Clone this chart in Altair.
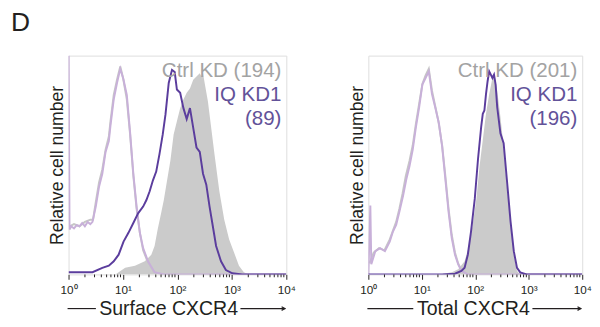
import altair as alt
import pandas as pd
import math

# ---------------- data (x = log10 fluorescence, y = fraction of max) ----------------
# Left panel: Surface CXCR4
surf_ctrl_x = [0.86, 1.04, 1.22, 1.40, 1.52, 1.58, 1.64, 1.70, 1.75, 1.81, 1.87, 1.93, 1.99, 2.05, 2.11, 2.17,
               2.23, 2.29, 2.35, 2.41, 2.44, 2.47, 2.50, 2.56, 2.62, 2.68, 2.77, 2.86, 2.95, 3.04, 3.13, 3.22, 3.31]
surf_ctrl_y = [0.00, 0.03, 0.04, 0.06, 0.09, 0.13, 0.21, 0.28, 0.34, 0.43, 0.52, 0.64, 0.70, 0.76, 0.80, 0.83,
               0.85, 0.89, 0.905, 0.92, 0.905, 0.92, 0.875, 0.79, 0.67, 0.55, 0.38, 0.25, 0.16, 0.10, 0.04, 0.01, 0.0]

surf_kd_x = [0.0, 0.08, 0.44, 0.62, 0.74, 0.83, 0.92, 1.01, 1.10, 1.19, 1.28, 1.37, 1.43, 1.49, 1.55, 1.61, 1.67,
             1.73, 1.78, 1.84, 1.90, 1.95, 1.99, 2.05, 2.11, 2.17, 2.23, 2.29, 2.35, 2.41, 2.47, 2.53, 2.59, 2.65,
             2.71, 2.80, 2.89, 3.01, 3.19, 4.0]
surf_kd_y = [0.01, 0.01, 0.01, 0.03, 0.04, 0.06, 0.09, 0.15, 0.19, 0.235, 0.28, 0.31, 0.34, 0.38, 0.43, 0.47, 0.55,
             0.64, 0.73, 0.875, 0.935, 0.925, 0.845, 0.83, 0.76, 0.71, 0.76, 0.67, 0.58, 0.56, 0.46, 0.41, 0.31, 0.22,
             0.13, 0.06, 0.02, 0.005, 0.0, 0.0]

surf_iso_x = [0.0, 0.018, 0.05, 0.10, 0.15, 0.20, 0.25, 0.30, 0.35, 0.40, 0.44, 0.50, 0.56, 0.62, 0.68, 0.74,
              0.77, 0.83, 0.89, 0.95, 1.01, 1.07, 1.13, 1.19, 1.25, 1.31, 1.37, 1.46, 1.58, 1.75, 4.0]
surf_iso_y = [1.05, 0.205, 0.22, 0.21, 0.225, 0.22, 0.235, 0.22, 0.24, 0.23, 0.24, 0.31, 0.40, 0.46, 0.56, 0.61,
              0.68, 0.80, 0.875, 0.94, 0.89, 0.82, 0.65, 0.46, 0.31, 0.19, 0.12, 0.06, 0.01, 0.0, 0.0]

surf_isoctrl_x = [0.018, 0.10, 0.20, 0.30, 0.40, 0.45, 0.50, 0.56, 0.62, 0.68, 0.74, 0.77, 0.83, 0.89, 0.95,
                  1.00, 1.07, 1.13, 1.19, 1.25, 1.31, 1.37, 1.45, 1.57, 1.75, 4.0]
surf_isoctrl_y = [0.22, 0.23, 0.22, 0.24, 0.25, 0.25, 0.33, 0.42, 0.48, 0.57, 0.63, 0.70, 0.82, 0.89, 0.95,
                  0.90, 0.80, 0.64, 0.45, 0.30, 0.19, 0.11, 0.06, 0.01, 0.0, 0.0]

# Right panel: Total CXCR4
tot_ctrl_x = [1.32, 1.56, 1.68, 1.80, 1.89, 1.95, 2.02, 2.08, 2.14, 2.20, 2.26, 2.32, 2.36, 2.41, 2.47, 2.53,
              2.59, 2.66, 2.72, 2.78, 2.84]
tot_ctrl_y = [0.0, 0.01, 0.024, 0.06, 0.136, 0.226, 0.345, 0.495, 0.614, 0.734, 0.824, 0.898, 0.913, 0.839,
              0.72, 0.584, 0.405, 0.226, 0.09, 0.016, 0.0]

tot_kd_x = [0.0, 1.38, 1.62, 1.74, 1.80, 1.86, 1.92, 1.99, 2.05, 2.11, 2.14, 2.17, 2.20, 2.23, 2.26, 2.29, 2.32,
            2.35, 2.38, 2.41, 2.47, 2.53, 2.59, 2.66, 2.72, 2.78, 2.84, 2.96, 4.0]
tot_kd_y = [0.0, 0.0, 0.003, 0.016, 0.03, 0.09, 0.196, 0.345, 0.525, 0.674, 0.734, 0.749, 0.824, 0.883, 0.928,
            0.913, 0.898, 0.913, 0.868, 0.764, 0.645, 0.60, 0.435, 0.24, 0.106, 0.03, 0.009, 0.0, 0.0]

tot_iso_x = [0.0, 0.037, 0.055, 0.13, 0.22, 0.31, 0.40, 0.46, 0.52, 0.58, 0.65, 0.71, 0.77, 0.83, 0.89, 0.95,
             1.01, 1.07, 1.13, 1.19, 1.25, 1.32, 1.38, 1.44, 1.50, 1.56, 1.62, 1.68, 1.74, 1.86, 4.0]
tot_iso_y = [0.0, 0.315, 0.046, 0.106, 0.12, 0.106, 0.15, 0.196, 0.226, 0.286, 0.36, 0.435, 0.495, 0.57, 0.674,
             0.764, 0.868, 0.898, 0.928, 0.824, 0.764, 0.69, 0.584, 0.435, 0.286, 0.166, 0.09, 0.046, 0.016, 0.0, 0.0]

tot_isoctrl_x = [0.02, 0.10, 0.20, 0.30, 0.40, 0.46, 0.52, 0.58, 0.64, 0.70, 0.77, 0.83, 0.89, 0.95, 1.01,
                 1.07, 1.13, 1.19, 1.25, 1.31, 1.38, 1.44, 1.50, 1.56, 1.62, 1.68, 1.74, 1.86, 4.0]
tot_isoctrl_y = [0.05, 0.10, 0.12, 0.11, 0.16, 0.20, 0.24, 0.30, 0.37, 0.45, 0.52, 0.59, 0.69, 0.78, 0.87,
                 0.91, 0.94, 0.84, 0.77, 0.70, 0.59, 0.45, 0.30, 0.18, 0.10, 0.05, 0.02, 0.0, 0.0]

surf_labels = ["Ctrl KD (194)", "IQ KD1", "(89)"]
tot_labels = ["Ctrl KD (201)", "IQ KD1", "(196)"]
axis_titles = ["Surface CXCR4", "Total CXCR4"]
y_title = "Relative cell number"
panel_letter = "D"
decade_labels = ["10⁰", "10¹", "10²", "10³", "10⁴"]

# ---------------- style ----------------
GRAY_FILL = "#cbcbcb"
GRAY_LINE = "#c6c6c6"
LIGHT_PURPLE = "#c8b0d9"
DARK_PURPLE = "#5b3d9d"
GRAY_TEXT = "#a3a3a3"
PURPLE_TEXT = "#625299"
INK = "#231f20"

major = [0, 1, 2, 3, 4]
minor = [round(d + math.log10(m), 4) for d in range(4) for m in range(2, 10)]
label_js = "[" + ",".join("'%s'" % s for s in decade_labels) + "]"

H = 224


def df(xs, ys):
    return pd.DataFrame({"x": xs, "y": ys})


def panel(ctrl, kd, iso, isoctrl, labels, xtitle, w, title_x, lines, letter=False):
    xs = alt.Scale(domain=[0, 4], nice=False, zero=False)
    ys = alt.Scale(domain=[0, 1], nice=False, zero=False)
    xaxis = alt.Axis(values=major, grid=False, domain=False,
                     tickSize=5, tickColor=INK, tickWidth=1,
                     labelExpr=label_js + "[round(datum.value)]",
                     labelOverlap=False, labelFlush=False, labelFontSize=12, labelColor=INK,
                     labelFont="Liberation Sans", labelPadding=6,
                     title=xtitle, titleFontSize=20, titleFontWeight="normal", titleColor=INK,
                     titleFont="Liberation Sans", titleX=title_x, titleAlign="center", titlePadding=3)
    yaxis = alt.Axis(grid=False, domain=False, ticks=False, labels=False,
                     title=y_title, titleFontSize=18, titleFontWeight="normal", titleColor=INK,
                     titleFont="Liberation Sans", titlePadding=2)

    X = alt.X("x:Q", scale=xs, axis=xaxis)
    Y = alt.Y("y:Q", scale=ys, axis=yaxis)

    area = alt.Chart(df(*ctrl)).mark_area(color=GRAY_FILL, clip=True, opacity=1).encode(x=X, y=Y)
    l_isoctrl = alt.Chart(df(*isoctrl)).mark_line(color=GRAY_LINE, strokeWidth=2, clip=True).encode(x="x:Q", y="y:Q")
    l_iso = alt.Chart(df(*iso)).mark_line(color=LIGHT_PURPLE, strokeWidth=2, clip=True).encode(x="x:Q", y="y:Q")
    l_kd = alt.Chart(df(*kd)).mark_line(color=DARK_PURPLE, strokeWidth=2, clip=True).encode(x="x:Q", y="y:Q")

    # minor log ticks below the frame
    minor_ticks = alt.Chart(pd.DataFrame({"x": minor})).mark_tick(
        color=INK, orient="vertical", size=3, thickness=1, opacity=1
    ).encode(x="x:Q", y=alt.value(H + 1.5))

    one = pd.DataFrame({"a": [0]})
    layers = [area, l_isoctrl, l_iso, l_kd, minor_ticks]
    ypos = [22, 46, 71]
    cols = [GRAY_TEXT, PURPLE_TEXT, PURPLE_TEXT]
    for lab, yp, c in zip(labels, ypos, cols):
        layers.append(alt.Chart(one).mark_text(text=lab, align="right", baseline="alphabetic", fontSize=21,
                                               font="Liberation Sans", color=c)
                      .encode(x=alt.value(w - 5), y=alt.value(yp)))
    # arrow line under axis title
    ly = H + 35
    for (a, b) in lines:
        layers.append(alt.Chart(one).mark_rule(color=INK, strokeWidth=1.2)
                      .encode(x=alt.value(a), x2=alt.value(b), y=alt.value(ly)))
    layers.append(alt.Chart(one).mark_point(shape="M-1,-0.55L0,0L-1,0.55", filled=False, color=INK,
                                            size=45, strokeWidth=1.2, opacity=1)
                  .encode(x=alt.value(lines[-1][1] - 0.5), y=alt.value(ly)))
    if letter:
        layers.append(alt.Chart(one).mark_text(text=panel_letter, align="left", baseline="alphabetic",
                                               fontSize=27, font="Liberation Sans", color=INK)
                      .encode(x=alt.value(-59), y=alt.value(-25)))
    return alt.layer(*layers).properties(width=w, height=H)


left = panel((surf_ctrl_x, surf_ctrl_y), (surf_kd_x, surf_kd_y), (surf_iso_x, surf_iso_y),
             (surf_isoctrl_x, surf_isoctrl_y), surf_labels, axis_titles[0], 223, 102,
             [(-1, 28), (176, 222)], letter=True)
right = panel((tot_ctrl_x, tot_ctrl_y), (tot_kd_x, tot_kd_y), (tot_iso_x, tot_iso_y),
              (tot_isoctrl_x, tot_isoctrl_y), tot_labels, axis_titles[1], 219, 107,
              [(-1, 46), (168, 218)])

chart = alt.hconcat(left, right, spacing=53).properties(
    padding={"left": 2, "top": -3, "right": 0, "bottom": 0}
).configure_view(stroke=INK, strokeWidth=1).configure(background="white")

chart.save("out.html", embed_options={"renderer": "svg", "actions": False})
